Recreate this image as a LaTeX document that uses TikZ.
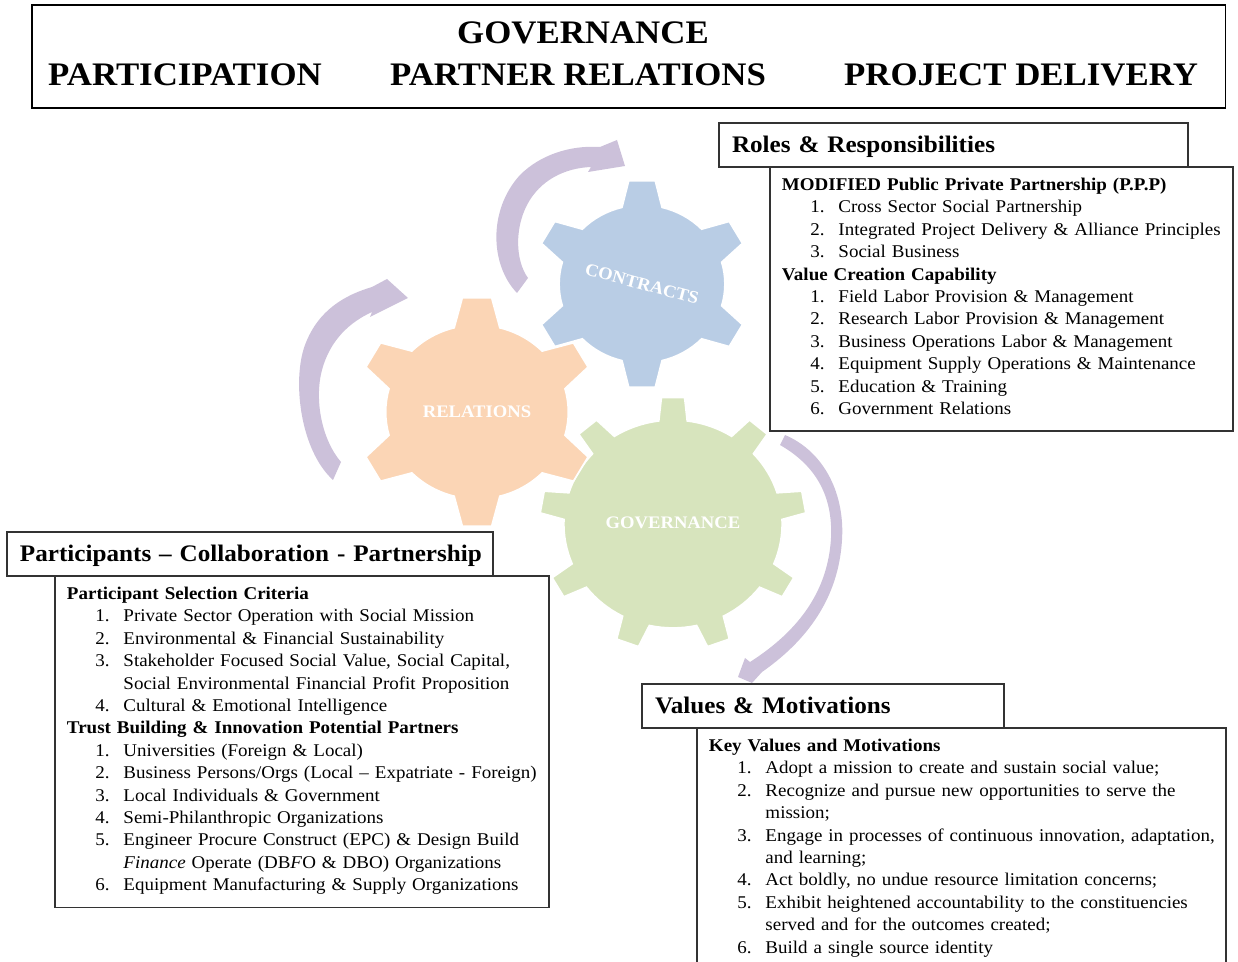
\documentclass[tikz,border=0pt]{standalone}
\usepackage{fontspec}
\setmainfont{Liberation Serif}[FakeStretch=1.06]
\usetikzlibrary{positioning}

\definecolor{contractblue}{HTML}{B9CDE5}
\definecolor{relationorange}{HTML}{FBD5B5}
\definecolor{govgreen}{HTML}{D7E4BD}
\definecolor{arrowpurple}{HTML}{CCC1DA}

\newcommand{\listhead}[1]{\mbox{\bfseries #1}}
\newcommand{\numitem}[2]{\hspace*{0.57cm}\makebox[0.56cm][l]{#1.}\mbox{#2}}
\newcommand{\itemcont}[1]{\hspace*{1.13cm}\mbox{#1}}
\newcommand{\lastdepth}[1]{\rule[-#1]{0pt}{0pt}}
% teeth, body radius, tip radius, base half angle, tip half angle
\newcommand{\gearpath}[5]{(270-#4:#2)
  \foreach \k in {1,...,#1}{
    -- ({270+(\k-1)*360/#1-#5}:#3) -- ({270+(\k-1)*360/#1+#5}:#3)
    -- ({270+(\k-1)*360/#1+#4}:#2)
    arc[start angle={270+(\k-1)*360/#1+#4}, end angle={270+\k*360/#1-#4}, radius=#2]
  } -- cycle}

\begin{document}
\begin{tikzpicture}[x=0.02cm, y=-0.02cm,
  titletext/.style={font=\fontsize{18.7}{22}\selectfont\bfseries, inner sep=0pt},
  headbox/.style={draw=black!80, line width=0.8pt, outer sep=0pt, anchor=north west,
    align=left, inner xsep=0.26cm, minimum height=0.88cm, text height=10pt, text depth=1pt,
    font=\fontsize{13.5}{16}\selectfont\bfseries},
  listbox/.style={draw=black!80, line width=0.8pt, outer sep=0pt, align=left,
    inner xsep=0.24cm, inner ysep=6.3pt, font=\fontsize{10.2}{12.75}\selectfont},
  geartext/.style={text=white, font=\fontsize{10}{12}\selectfont\bfseries},
  gearfill/.style={draw=white, line width=1pt},
  bentarrow/.style={fill=arrowpurple}]
  \useasboundingbox (0,0) rectangle (1238,962);
  \clip (0,0) rectangle (1238,962);

  % title
  \node[draw, line width=0.6pt, outer sep=0pt, anchor=north west,
    minimum width=23.88cm, minimum height=2.06cm] (titlebox) at (32,5) {};
  \node[titletext] (gov) at (583,33) {GOVERNANCE};
  \node[titletext] (participation) at (185,75) {PARTICIPATION};
  \node[titletext] (partner) at (578,75) {PARTNER RELATIONS};
  \node[titletext] (delivery) at (1021,75) {PROJECT DELIVERY};

  % arrows
  \fill[bentarrow] (333,480) .. controls (300,450) and (292,380) .. (305,345)
    .. controls (318,310) and (345,295) .. (372,287) -- (387,279) -- (408,298)
    -- (370,317) -- (372,312) .. controls (350,322) and (330,340) .. (322,370)
    .. controls (314,400) and (322,440) .. (341,462) -- cycle;
  \fill[bentarrow] (517,293) .. controls (490,265) and (488,210) .. (520,175)
    .. controls (540,155) and (570,145) .. (600,147) -- (617,140) -- (625,166)
    -- (588,172) -- (591,167) .. controls (565,168) and (540,180) .. (527,205)
    .. controls (515,228) and (515,260) .. (528,278) -- cycle;
  \fill[bentarrow] (785,435) .. controls (825,452) and (845,495) .. (842,540)
    .. controls (839,590) and (815,635) .. (762,672) -- (752,683) -- (738,677)
    -- (745,658) -- (750,662) .. controls (800,630) and (828,590) .. (831,538)
    .. controls (833,495) and (815,465) .. (780,445) -- cycle;

  % gears
  \begin{scope}[shift={(673,524)}, xscale=1.05]
    \filldraw[fill=govgreen, gearfill] \gearpath{9}{104}{127}{7.5}{5};
  \end{scope}
  \begin{scope}[shift={(642,284)}, xscale=1.05]
    \filldraw[fill=contractblue, gearfill] \gearpath{6}{79}{104}{14}{7};
  \end{scope}
  \begin{scope}[shift={(477,412)}, xscale=1.05]
    \filldraw[fill=relationorange, gearfill] \gearpath{6}{87}{115}{14.5}{7};
  \end{scope}
  \node[geartext] (governance) at (673,523) {GOVERNANCE};
  \node[geartext, rotate=-15] (contracts) at (642,284) {CONTRACTS};
  \node[geartext] (relations) at (477,412) {RELATIONS};

  % roles
  \node[headbox, text width=8.86cm] (rolesHead) at (719,123) {\mbox{Roles \& Responsibilities}};
  \node[listbox, text width=8.78cm, below right=0cm and 1.02cm of rolesHead.south west] (rolesList) {%
    \listhead{MODIFIED Public Private Partnership (P.P.P)}\\
    \numitem{1}{Cross Sector Social Partnership}\\
    \numitem{2}{Integrated Project Delivery \& Alliance Principles}\\
    \numitem{3}{Social Business}\\
    \listhead{Value Creation Capability}\\
    \numitem{1}{Field Labor Provision \& Management}\\
    \numitem{2}{Research Labor Provision \& Management}\\
    \numitem{3}{Business Operations Labor \& Management}\\
    \numitem{4}{Equipment Supply Operations \& Maintenance}\\
    \numitem{5}{Education \& Training}\\
    \numitem{6}{Government Relations}\lastdepth{3.2pt}};

  % participants
  \node[headbox, text width=9.20cm] (partsHead) at (7,532) {\mbox{Participants -- Collaboration - Partnership}};
  \node[listbox, text width=9.40cm, below right=0cm and 0.96cm of partsHead.south west] (partsList) {%
    \listhead{Participant Selection Criteria}\\
    \numitem{1}{Private Sector Operation with Social Mission}\\
    \numitem{2}{Environmental \& Financial Sustainability}\\
    \numitem{3}{Stakeholder Focused Social Value, Social Capital,}\\
    \itemcont{Social Environmental Financial Profit Proposition}\\
    \numitem{4}{Cultural \& Emotional Intelligence}\\
    \listhead{Trust Building \& Innovation Potential Partners}\\
    \numitem{1}{Universities (Foreign \& Local)}\\
    \numitem{2}{Business Persons/Orgs (Local -- Expatriate - Foreign)}\\
    \numitem{3}{Local Individuals \& Government}\\
    \numitem{4}{Semi-Philanthropic Organizations}\\
    \numitem{5}{Engineer Procure Construct (EPC) \& Design Build}\\
    \itemcont{\textit{Finance} Operate (DB\textit{F}O \& DBO) Organizations}\\
    \numitem{6}{Equipment Manufacturing \& Supply Organizations}\lastdepth{3.3pt}};

  % values
  \node[headbox, text width=6.72cm] (valuesHead) at (642,684) {\mbox{Values \& Motivations}};
  \node[listbox, text width=10.10cm, below right=0cm and 1.1cm of valuesHead.south west] (valuesList) {%
    \listhead{Key Values and Motivations}\\
    \numitem{1}{Adopt a mission to create and sustain social value;}\\
    \numitem{2}{Recognize and pursue new opportunities to serve the}\\
    \itemcont{mission;}\\
    \numitem{3}{Engage in processes of continuous innovation, adaptation,}\\
    \itemcont{and learning;}\\
    \numitem{4}{Act boldly, no undue resource limitation concerns;}\\
    \numitem{5}{Exhibit heightened accountability to the constituencies}\\
    \itemcont{served and for the outcomes created;}\\
    \numitem{6}{Build a single source identity}\lastdepth{1.5cm}};
\end{tikzpicture}
\end{document}
